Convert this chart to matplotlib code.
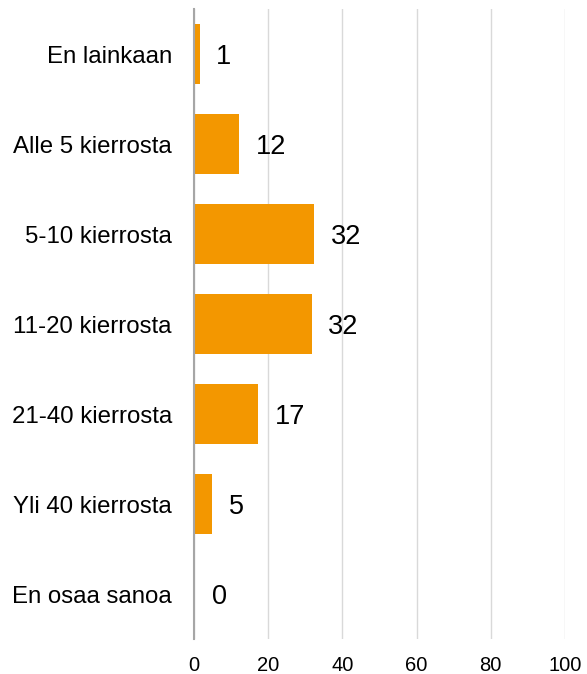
import matplotlib.pyplot as plt

# Survey answers (horizontal bar chart)
categories = ['En lainkaan', 'Alle 5 kierrosta', '5-10 kierrosta', '11-20 kierrosta',
              '21-40 kierrosta', 'Yli 40 kierrosta', 'En osaa sanoa']
values = [1.5, 12.2, 32.4, 31.7, 17.2, 4.8, 0.4]
value_labels = ['1', '12', '32', '32', '17', '5', '0']
x_ticks = [0, 20, 40, 60, 80, 100]

plt.rcParams['font.family'] = ['Liberation Sans', 'DejaVu Sans']

fig = plt.figure(figsize=(5.87, 6.74), dpi=100)
ax = fig.add_axes([0.3305, 0.0519, 0.632, 0.9347])

pos = list(range(len(categories)))
ax.barh(pos, values, height=0.667, color='#F39700', zorder=3)

# value labels right of each bar
for p, v, lab in zip(pos, values, value_labels):
    ax.text(v + 4.5, p + 0.03, lab, va='center', ha='left', fontsize=19.5, color='#000000')

ax.set_xlim(0, 100)
ax.set_ylim(len(categories) - 0.5, -0.5)
ax.set_yticks(pos)
ax.set_yticklabels(categories, fontsize=17.3)
ax.set_xticks(x_ticks)
ax.set_xticklabels([str(t) for t in x_ticks], fontsize=14.5)
ax.tick_params(axis='both', length=0)
ax.tick_params(axis='y', pad=16)
ax.tick_params(axis='x', pad=12)

ax.grid(axis='x', color='#d9d9d9', linewidth=1, zorder=0)
for s in ['top', 'right', 'bottom']:
    ax.spines[s].set_visible(False)
ax.spines['left'].set_color('#a6a6a6')
ax.spines['left'].set_linewidth(1.5)
ax.spines['left'].set_zorder(4)

plt.savefig('out.png', dpi=100)
